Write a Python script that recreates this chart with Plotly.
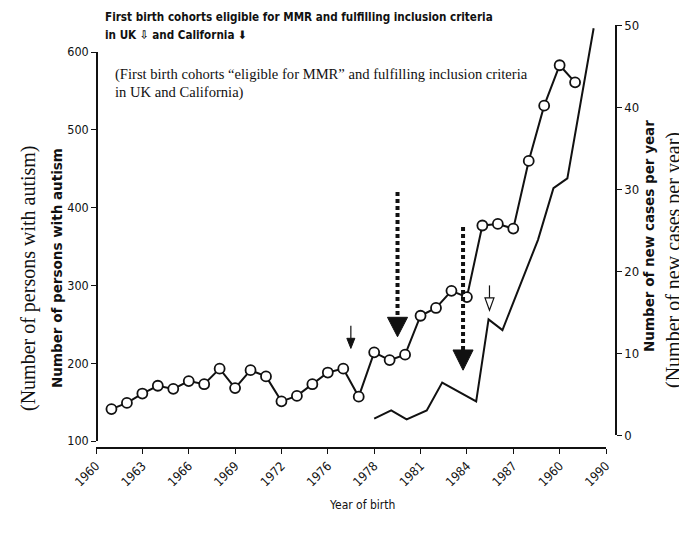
import plotly.graph_objects as go

W, H = 687, 542

# ---- data ----
uk_years = list(range(1961, 1992))
uk_cases = [141, 149, 161, 171, 167, 177, 173, 193, 168, 191,
            183, 151, 158, 173, 188, 193, 157, 214, 204, 211,
            261, 271, 293, 285, 377, 379, 373, 460, 531, 583, 561]

ca_years = [1978.0, 1979.1, 1980.1, 1981.4, 1982.4, 1984.6, 1985.4,
            1986.3, 1988.6, 1989.6, 1990.5, 1992.2]
ca_cases = [2.0, 3.0, 1.9, 3.0, 6.4, 4.1, 14.1, 12.8, 23.8, 30.1, 31.3, 49.6]

x_tickvals = list(range(1960, 1994, 3))
x_ticktext = ["1960", "1963", "1966", "1969", "1972", "1976", "1978",
              "1981", "1984", "1987", "1960", "1990"]
left_ticks = [100, 200, 300, 400, 500, 600]
right_ticks = [0, 10, 20, 30, 40, 50]

# arrows (data coords on year / left axis)
dotted_x = [1979.51, 1983.75]
dotted_top = [420, 375]
dotted_base = [259, 217]
dotted_tip = [234, 191]

small_x, small_top, small_base, small_tip = 1976.49, 248, 232, 219
hollow_x, hollow_top, hollow_base, hollow_tip = 1985.46, 300, 284, 268

# ---- helpers for paper positions (page offset of 8 px compensated) ----
OFF = 8

def px(x):
    return (x - OFF) / W

def py(y):
    return 1 - (y - OFF) / H

SANS_N = "Liberation Sans Narrow, DejaVu Sans Condensed, Liberation Sans, sans-serif"
SANS = "DejaVu Sans, Liberation Sans, sans-serif"
SERIF = "Liberation Serif, DejaVu Serif, serif"
INK = "#111111"

fig = go.Figure()

fig.add_trace(go.Scatter(
    x=ca_years, y=ca_cases, xaxis="x2", yaxis="y2", mode="lines",
    line=dict(color=INK, width=2), cliponaxis=False, showlegend=False))

fig.add_trace(go.Scatter(
    x=uk_years, y=uk_cases, mode="lines+markers",
    line=dict(color=INK, width=2),
    marker=dict(symbol="circle", size=10, color="white",
                line=dict(color=INK, width=1.8)),
    cliponaxis=False, showlegend=False))

shapes = []
for x, t, b, tip in zip(dotted_x, dotted_top, dotted_base, dotted_tip):
    shapes.append(dict(type="line", xref="x", yref="y", x0=x, x1=x, y0=t, y1=b,
                       line=dict(color=INK, width=4, dash="4px,3px")))
    hw = 0.65
    shapes.append(dict(type="path", xref="x", yref="y",
                       path=f"M {x-hw},{b} L {x+hw},{b} L {x},{tip} Z",
                       fillcolor=INK, line=dict(color=INK, width=1)))

shapes.append(dict(type="line", xref="x", yref="y", x0=small_x, x1=small_x,
                   y0=small_top, y1=small_base, line=dict(color=INK, width=1.2)))
shapes.append(dict(type="path", xref="x", yref="y",
                   path=f"M {small_x-0.26},{small_base} L {small_x+0.26},{small_base} L {small_x},{small_tip} Z",
                   fillcolor=INK, line=dict(color=INK, width=1)))
shapes.append(dict(type="line", xref="x", yref="y", x0=hollow_x, x1=hollow_x,
                   y0=hollow_top, y1=hollow_base, line=dict(color=INK, width=1.2)))
shapes.append(dict(type="path", xref="x", yref="y",
                   path=f"M {hollow_x-0.29},{hollow_base} L {hollow_x+0.29},{hollow_base} L {hollow_x},{hollow_tip} Z",
                   fillcolor="white", line=dict(color=INK, width=1.2)))

annotations = [
    dict(text="<b>First birth cohorts eligible for MMR and fulfilling inclusion criteria</b>",
         x=px(103), y=py(17), xanchor="left", yanchor="middle",
         font=dict(family=SANS_N, size=11.6, color=INK)),
    dict(text="<b>in UK ⇩ and California ⬇</b>",
         x=px(103), y=py(35), xanchor="left", yanchor="middle",
         font=dict(family=SANS_N, size=11.6, color=INK)),
    dict(text="(First birth cohorts “eligible for MMR” and fulfilling inclusion criteria",
         x=px(113), y=py(74), xanchor="left", yanchor="middle",
         font=dict(family=SERIF, size=14.6, color=INK)),
    dict(text="in UK and California)",
         x=px(113), y=py(93), xanchor="left", yanchor="middle",
         font=dict(family=SERIF, size=14.6, color=INK)),
    dict(text="(Number of persons with autism)", textangle=-90,
         x=px(28), y=py(278), xanchor="center", yanchor="middle",
         font=dict(family=SERIF, size=20, color=INK)),
    dict(text="<b>Number of persons with autism</b>", textangle=-90,
         x=px(57), y=py(268), xanchor="center", yanchor="middle",
         font=dict(family=SANS, size=13.5, color=INK)),
    dict(text="<b>Number of new cases per year</b>", textangle=-90,
         x=px(649), y=py(236), xanchor="center", yanchor="middle",
         font=dict(family=SANS, size=13.5, color=INK)),
    dict(text="(Number of new cases per year)", textangle=-90,
         x=px(674), y=py(260), xanchor="center", yanchor="middle",
         font=dict(family=SERIF, size=20, color=INK)),
    dict(text="Year of birth",
         x=px(362), y=py(505), xanchor="center", yanchor="middle",
         font=dict(family=SANS_N, size=12, color=INK)),
]
for a in annotations:
    a.update(xref="paper", yref="paper", showarrow=False)

axis_common = dict(showgrid=False, zeroline=False, showline=True,
                   linecolor=INK, linewidth=1.5, ticks="outside", ticklen=5,
                   tickcolor=INK, tickwidth=1.2)

fig.update_layout(
    width=W, height=H,
    margin=dict(l=0, r=0, t=0, b=0, autoexpand=False),
    paper_bgcolor="white", plot_bgcolor="rgba(0,0,0,0)",
    template="none", showlegend=False,
    xaxis=dict(domain=[px(96), px(606)], range=[1960, 1993], anchor="free",
               position=py(448), tickmode="array", tickvals=x_tickvals,
               ticktext=x_ticktext, tickangle=-45,
               tickfont=dict(family=SANS_N, size=12.5, color=INK), **axis_common),
    yaxis=dict(domain=[py(441), py(52)], range=[100, 600], anchor="free",
               position=px(97), tickmode="array", tickvals=left_ticks,
               tickfont=dict(family=SANS_N, size=12.5, color=INK), **axis_common),
    xaxis2=dict(domain=[px(96), px(606)], range=[1960, 1993], visible=False,
                anchor="y2"),
    yaxis2=dict(domain=[py(435), py(25)], range=[0, 50], anchor="free",
                position=px(616), side="right", tickmode="array",
                tickvals=right_ticks,
                tickfont=dict(family=SANS_N, size=13, color=INK), **axis_common),
    shapes=shapes, annotations=annotations,
)

fig.write_html("out.html")
